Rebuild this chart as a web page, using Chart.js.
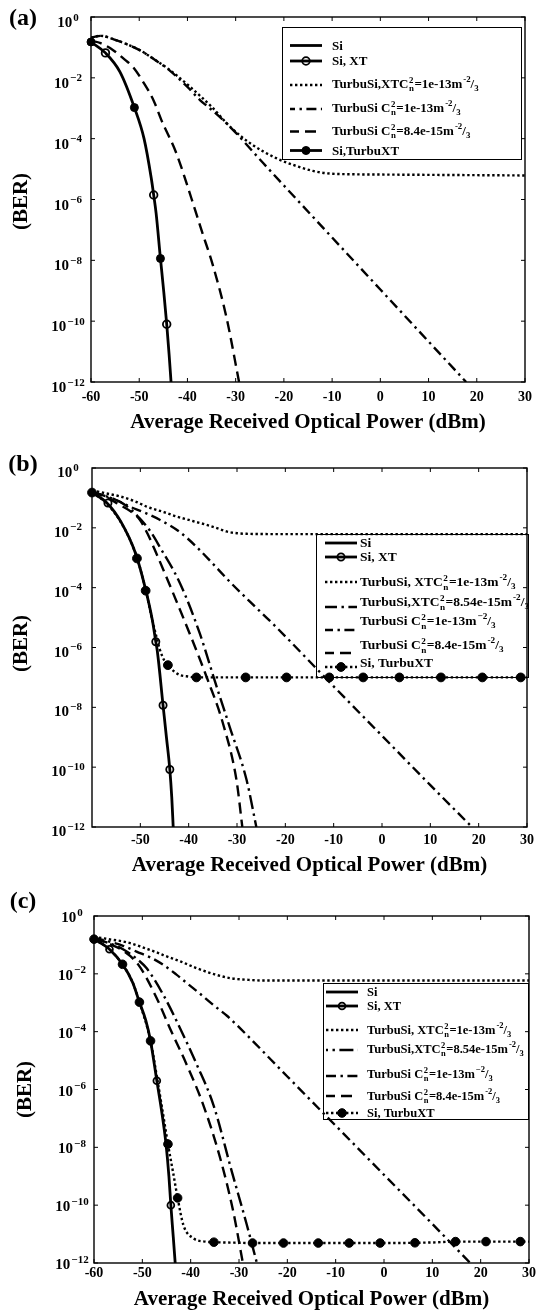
<!DOCTYPE html>
<html>
<head>
<meta charset="utf-8">
<title>BER vs average received optical power</title>
<script src="https://cdn.jsdelivr.net/npm/chart.js@4.4.1/dist/chart.umd.min.js"></script>
<style>
  html, body { margin: 0; padding: 0; background: #fff; }
  #page { position: relative; width: 539px; height: 1312px; overflow: hidden; background: #fff; }
  #page canvas { position: absolute; left: 0; }
</style>
</head>
<body>
<div id="page">
  <canvas id="panelA" width="539" height="440" style="top:0px"></canvas>
  <canvas id="panelB" width="539" height="440" style="top:440px"></canvas>
  <canvas id="panelC" width="539" height="432" style="top:880px"></canvas>
</div>
<script>
// ---------- shared axis values ----------
const yTickExponents = [0, -2, -4, -6, -8, -10, -12];
const xTickValuesA = [-60, -50, -40, -30, -20, -10, 0, 10, 20, 30];
const xTickValuesB = [-50, -40, -30, -20, -10, 0, 10, 20, 30];
const xTickValuesC = [-60, -50, -40, -30, -20, -10, 0, 10, 20, 30];
const xTitle = 'Average Received Optical Power (dBm)';
const yTitle = '(BER)';

// ---------- panel (a) ----------
const siPowerA = [-60, -57, -54, -51, -49, -47.5, -47, -46.5, -45.6, -44.9, -44.3, -43.8, -43.4];
const siBerA = [1.51e-1, 6.61e-2, 1.58e-2, 1.05e-3, 1.0e-4, 5.01e-6, 1.41e-6, 3.55e-7, 1.15e-8, 8.91e-10, 7.94e-11, 7.94e-12, 1.0e-12];
const siXtPowerA = [-57, -47, -44.3];
const siXtBerA = [6.61e-2, 1.41e-6, 7.94e-11];
const siTurbXtPowerA = [-60, -51, -45.6];
const siTurbXtBerA = [1.51e-1, 1.05e-3, 1.15e-8];
const turbXtPowerA = [-60, -58, -55, -52, -49.9, -47, -43.6, -39.5, -35, -31.2, -27, -21.6, -17, -14, -11, -6, 0, 10, 20, 30];
const turbXtBerA = [2.09e-1, 2.40e-1, 1.78e-1, 1.17e-1, 8.13e-2, 4.17e-2, 1.78e-2, 5.13e-3, 1.12e-3, 2.51e-4, 7.08e-5, 2.29e-5, 1.20e-5, 8.71e-6, 7.24e-6, 6.76e-6, 6.61e-6, 6.46e-6, 6.31e-6, 6.17e-6];
const turbPowerA = [-60, -58, -55, -52, -49.9, -47, -43.6, -40, -37.4, -35, -32.6, -30, -24.3, -20, -10, 0, 10, 17.8];
const turbBerA = [2.09e-1, 2.40e-1, 1.78e-1, 1.17e-1, 8.13e-2, 4.17e-2, 1.70e-2, 5.01e-3, 1.86e-3, 8.91e-4, 4.07e-4, 1.58e-4, 1.58e-5, 2.88e-6, 5.62e-8, 1.10e-9, 2.14e-11, 1.0e-12];
const turbWeakPowerA = [-60, -58, -55.4, -53, -51.3, -49.2, -47, -45.4, -42.3, -39.2, -37, -34.75, -31.9, -29.3];
const turbWeakBerA = [1.66e-1, 1.38e-1, 8.13e-2, 3.98e-2, 2.29e-2, 7.41e-3, 1.78e-3, 4.07e-4, 3.31e-5, 1.12e-6, 8.91e-8, 7.08e-9, 1.32e-10, 1.0e-12];
const legendTextA = [
  'Si',
  'Si, XT',
  'TurbuSi,XTC{2|n}=1e-13m^{-2}/_{3}',
  'TurbuSi C{2|n}=1e-13m^{-2}/_{3}',
  'TurbuSi C{2|n}=8.4e-15m^{-2}/_{3}',
  'Si,TurbuXT'
];

// ---------- panel (b) ----------
const siPowerB = [-60, -57, -54, -51, -49, -47.5, -46.8, -46.5, -45.3, -44.6, -43.9, -43.5, -43.2];
const siBerB = [1.51e-1, 7.08e-2, 1.58e-2, 1.41e-3, 1.0e-4, 7.94e-6, 1.55e-6, 7.94e-7, 1.17e-8, 1.0e-9, 8.32e-11, 1.0e-11, 1.0e-12];
const siXtPowerB = [-56.7, -46.8, -45.3, -43.9];
const siXtBerB = [6.76e-2, 1.55e-6, 1.17e-8, 8.32e-11];
const siTurbXtPowerB = [-60, -57, -54, -51, -49, -47.5, -46.5, -46, -45, -44.3, -43, -41.8, -40, -38.4, -35, -30, -20, -10, 0, 10, 20, 30];
const siTurbXtBerB = [1.51e-1, 6.61e-2, 1.51e-2, 1.41e-3, 1.0e-4, 7.94e-6, 1.78e-6, 8.91e-7, 3.55e-7, 2.57e-7, 1.58e-7, 1.20e-7, 1.07e-7, 1.0e-7, 1.0e-7, 1.0e-7, 1.0e-7, 1.0e-7, 1.0e-7, 1.0e-7, 1.0e-7, 1.0e-7];
const siTurbXtMarkPowerB = [-60, -50.7, -48.9, -44.3, -38.4, -28.2, -19.75, -10.9, -3.9, 3.6, 12.2, 20.75, 28.7];
const siTurbXtMarkBerB = [1.51e-1, 9.5e-4, 7.94e-5, 2.57e-7, 1.0e-7, 1.0e-7, 1.0e-7, 1.0e-7, 1.0e-7, 1.0e-7, 1.0e-7, 1.0e-7, 1.0e-7];
const turbXtPowerB = [-60, -57, -54, -51, -48.7, -45, -42.5, -39, -36.3, -34, -32.2, -30, -28, -20, -10, 0, 10, 20, 30];
const turbXtBerB = [1.78e-1, 1.41e-1, 1.10e-1, 7.59e-2, 5.13e-2, 3.31e-2, 2.40e-2, 1.66e-2, 1.26e-2, 9.55e-3, 7.59e-3, 6.61e-3, 6.31e-3, 6.17e-3, 6.17e-3, 6.17e-3, 6.17e-3, 6.17e-3, 6.17e-3];
const turbXtWeakPowerB = [-60, -57, -54, -52, -50.5, -48, -46, -41.8, -37.7, -34.2, -31.5, -28, -26];
const turbXtWeakBerB = [1.58e-1, 1.12e-1, 7.08e-2, 4.17e-2, 2.40e-2, 7.94e-3, 2.34e-3, 1.41e-4, 2.95e-6, 4.79e-8, 2.19e-9, 3.63e-11, 1.0e-12];
const turbPowerB = [-60, -57, -55, -52.2, -49, -46, -42, -38.4, -35, -31.5, -27, -22.5, -10, 0, 10, 18.6];
const turbBerB = [1.58e-1, 1.12e-1, 8.51e-2, 5.13e-2, 3.16e-2, 1.86e-2, 7.59e-3, 2.34e-3, 6.31e-4, 1.58e-4, 3.02e-5, 6.03e-6, 5.01e-8, 1.12e-9, 2.51e-11, 1.0e-12];
const turbWeakPowerB = [-60, -57, -54.3, -52, -50.1, -48.5, -46.7, -43.2, -39.8, -36.3, -32.9, -30.1, -28.9];
const turbWeakBerB = [1.58e-1, 1.05e-1, 5.89e-2, 3.55e-2, 1.86e-2, 6.31e-3, 1.41e-3, 6.46e-5, 2.95e-6, 1.05e-7, 2.88e-9, 3.63e-11, 1.0e-12];
const legendTextB = [
  'Si',
  'Si, XT',
  'TurbuSi, XTC{2|n}=1e-13m^{-2}/_{3}',
  'TurbuSi,XTC{2|n}=8.54e-15m^{-2}/_{3}',
  'TurbuSi C{2|n}=1e-13m^{\u22122}/_{3}',
  'TurbuSi C{2|n}=8.4e-15m^{-2}/_{3}',
  'Si, TurbuXT'
];

// ---------- panel (c) ----------
const siPowerC = [-60, -58, -56.8, -54.1, -52, -50.6, -49.3, -48.3, -47.0, -46.0, -45.1, -44.5, -44.1, -43.6, -43.2];
const siBerC = [1.58e-1, 1.0e-1, 7.08e-2, 2.14e-2, 5.01e-3, 1.05e-3, 2.51e-4, 4.79e-5, 2.0e-6, 1.78e-7, 1.29e-8, 1.0e-9, 1.0e-10, 7.94e-12, 1.0e-12];
const siXtPowerC = [-56.8, -47.0, -44.1];
const siXtBerC = [7.08e-2, 2.0e-6, 1.0e-10];
const siTurbXtPowerC = [-60, -57, -54.1, -52, -50.6, -48.3, -47, -46, -44.7, -43.6, -42.7, -41.5, -39.4, -37, -35.2, -30, -27.2, -20, -10, 0, 10, 14.8, 20, 30];
const siTurbXtBerC = [1.58e-1, 7.59e-2, 2.14e-2, 5.01e-3, 1.05e-3, 4.79e-5, 2.82e-6, 2.82e-7, 1.29e-8, 1.26e-9, 1.78e-10, 2.04e-11, 7.08e-12, 5.5e-12, 5.25e-12, 5.01e-12, 4.9e-12, 4.9e-12, 4.9e-12, 4.9e-12, 5.13e-12, 5.5e-12, 5.5e-12, 5.5e-12];
const siTurbXtMarkPowerC = [-60, -54.1, -50.6, -48.3, -44.7, -42.7, -35.2, -27.2, -20.8, -13.6, -7.2, -0.8, 6.4, 14.8, 21.1, 28.2];
const siTurbXtMarkBerC = [1.58e-1, 2.14e-2, 1.05e-3, 4.79e-5, 1.29e-8, 1.78e-10, 5.25e-12, 4.9e-12, 4.9e-12, 4.9e-12, 4.9e-12, 4.9e-12, 5.0e-12, 5.5e-12, 5.5e-12, 5.5e-12];
const turbXtPowerC = [-60, -57, -54, -52.5, -50, -47, -45.7, -42, -38.7, -35, -31.8, -28, -25, -20, -10, 0, 10, 20, 30];
const turbXtBerC = [1.91e-1, 1.58e-1, 1.32e-1, 1.15e-1, 8.32e-2, 5.5e-2, 4.47e-2, 2.63e-2, 1.55e-2, 9.55e-3, 7.08e-3, 6.17e-3, 5.89e-3, 5.89e-3, 5.89e-3, 5.89e-3, 5.89e-3, 5.89e-3, 5.89e-3];
const turbXtWeakPowerC = [-60, -57, -54, -51, -49.1, -45.65, -42.2, -38.7, -35.3, -31.5, -28.4, -26.3];
const turbXtWeakBerC = [1.66e-1, 1.17e-1, 7.08e-2, 3.16e-2, 1.55e-2, 1.86e-3, 1.32e-4, 7.08e-6, 2.95e-7, 1.48e-9, 2.14e-11, 1.0e-12];
const turbPowerC = [-60, -57, -54, -51.2, -48, -45.65, -43, -40.8, -38, -35.3, -32.5, -29.8, -20, -10, 0, 10, 17.85];
const turbBerC = [1.78e-1, 1.32e-1, 9.33e-2, 5.89e-2, 3.47e-2, 2.04e-2, 9.55e-3, 4.79e-3, 2.0e-3, 8.32e-4, 3.55e-4, 1.32e-4, 2.82e-6, 5.62e-8, 1.12e-9, 2.24e-11, 1.0e-12];
const turbWeakPowerC = [-60, -57, -54, -50.8, -47, -44.3, -40.8, -37.4, -33.9, -31.2, -29.2];
const turbWeakBerC = [1.66e-1, 1.12e-1, 6.31e-2, 2.04e-2, 1.41e-3, 1.32e-4, 7.08e-6, 2.95e-7, 4.27e-9, 6.17e-11, 1.0e-12];
const legendTextC = [
  'Si',
  'Si, XT',
  'TurbuSi, XTC{2|n}=1e-13m^{-2}/_{3}',
  'TurbuSi,XTC{2|n}=8.54e-15m^{-2}/_{3}',
  'TurbuSi C{2|n}=1e-13m^{\u22122}/_{3}',
  'TurbuSi C{2|n}=8.4e-15m^{-2}/_{3}',
  'Si, TurbuXT'
];

// ---------- styling ----------
const SERIF = "'Liberation Serif', 'Times New Roman', serif";
Chart.defaults.font.family = SERIF;
Chart.defaults.color = '#000';

const SOLID = [];
const DOTTED = [2.4, 2.6];
const DASHED = [11, 6];
const DASH_DOT = [10, 4.5, 2.4, 4.5];
const LONG_DASH_DOT = [14, 4.5, 2.4, 4.5];

const pts = (xs, ys) => xs.map((x, i) => ({ x: x, y: ys[i] }));

function curve(name, xs, ys, dash, width) {
  return {
    label: name, data: pts(xs, ys), borderColor: '#000', backgroundColor: '#000',
    borderWidth: width, borderDash: dash, pointRadius: 0, pointHoverRadius: 0,
    cubicInterpolationMode: 'monotone', fill: false, order: 1
  };
}
function markers(name, xs, ys, filled, r) {
  return {
    label: name, data: pts(xs, ys), showLine: false, pointStyle: 'circle',
    pointRadius: r, pointHoverRadius: r, borderColor: '#000',
    pointBackgroundColor: filled ? '#000' : 'rgba(0,0,0,0)',
    pointBorderColor: '#000', pointBorderWidth: filled ? 1 : 1.8,
    clip: false, order: 0
  };
}

// ---------- rich text with sub/superscripts ----------
function richRuns(str) {
  const runs = [];
  let i = 0, buf = '';
  const flush = () => { if (buf) { runs.push({ kind: 'n', a: buf }); buf = ''; } };
  while (i < str.length) {
    const c = str[i];
    if ((c === '^' || c === '_') && str[i + 1] === '{') {
      flush();
      const j = str.indexOf('}', i);
      runs.push({ kind: c === '^' ? 'sup' : 'sub', a: str.slice(i + 2, j) });
      i = j + 1;
    } else if (c === '{') {
      flush();
      const j = str.indexOf('}', i);
      const parts = str.slice(i + 1, j).split('|');
      runs.push({ kind: 'stack', a: parts[0], b: parts[1] });
      i = j + 1;
    } else { buf += c; i++; }
  }
  flush();
  return runs;
}
function drawRich(ctx, str, x, midY, size) {
  const small = size * 0.68;
  const base = midY + size * 0.33;
  const big = 'bold ' + size + 'px ' + SERIF;
  const sm = 'bold ' + small + 'px ' + SERIF;
  ctx.textAlign = 'left';
  ctx.textBaseline = 'alphabetic';
  ctx.fillStyle = '#000';
  for (const r of richRuns(str)) {
    if (r.kind === 'n') {
      ctx.font = big; ctx.fillText(r.a, x, base); x += ctx.measureText(r.a).width;
    } else if (r.kind === 'sup') {
      ctx.font = sm; ctx.fillText(r.a, x + 1, base - size * 0.5); x += ctx.measureText(r.a).width + 1;
    } else if (r.kind === 'sub') {
      ctx.font = sm; ctx.fillText(r.a, x, base + size * 0.22); x += ctx.measureText(r.a).width;
    } else {
      ctx.font = sm;
      ctx.fillText(r.a, x + 0.5, base - size * 0.42);
      ctx.fillText(r.b, x + 0.5, base + size * 0.24);
      x += Math.max(ctx.measureText(r.a).width, ctx.measureText(r.b).width) + 1;
    }
  }
}

// ---------- frame, labels and legend ----------
function decor(spec) {
  const byLabel = (chart, name) => chart.data.datasets.find(d => d.label === name);
  return {
    id: 'decor' + spec.letter,
    beforeDatasetsDraw(chart) {
      const ctx = chart.ctx;
      const lg = spec.legend;
      ctx.save();
      ctx.fillStyle = '#fff';
      ctx.fillRect(lg.box[0], lg.box[1], lg.box[2], lg.box[3]);
      ctx.strokeStyle = '#000';
      ctx.lineWidth = 1;
      ctx.setLineDash([]);
      ctx.strokeRect(lg.box[0] + 0.5, lg.box[1] + 0.5, lg.box[2], lg.box[3]);
      lg.entries.forEach((e, i) => {
        const sy = lg.sampleY[i];
        if (e.line) {
          const ds = byLabel(chart, e.line);
          ctx.strokeStyle = '#000';
          ctx.lineWidth = ds.borderWidth;
          ctx.setLineDash(ds.borderDash);
          ctx.lineDashOffset = e.offset || 0;
          ctx.beginPath();
          ctx.moveTo(lg.sampleX[0], sy);
          ctx.lineTo(lg.sampleX[1], sy);
          ctx.stroke();
          ctx.lineDashOffset = 0;
        }
        if (e.marker) {
          const m = byLabel(chart, e.marker);
          ctx.setLineDash([]);
          ctx.beginPath();
          ctx.arc((lg.sampleX[0] + lg.sampleX[1]) / 2, sy, m.pointRadius, 0, Math.PI * 2);
          ctx.fillStyle = m.pointBackgroundColor;
          ctx.fill();
          ctx.lineWidth = m.pointBorderWidth;
          ctx.strokeStyle = '#000';
          ctx.stroke();
        }
        drawRich(ctx, lg.text[i], lg.textX, lg.textY[i], lg.size);
      });
      ctx.restore();
    },
    afterDraw(chart) {
      const ctx = chart.ctx;
      const { left, right, top, bottom } = chart.chartArea;
      const xs = chart.scales.x, ys = chart.scales.y;
      ctx.save();
      ctx.setLineDash([]);
      ctx.strokeStyle = '#000';
      ctx.lineWidth = 1.4;
      ctx.strokeRect(left, top, right - left, bottom - top);
      ctx.lineWidth = 1;
      const L = 4;
      ctx.beginPath();
      for (const v of spec.xTicks) {
        const px = xs.getPixelForValue(v);
        ctx.moveTo(px, bottom); ctx.lineTo(px, bottom - L);
        ctx.moveTo(px, top); ctx.lineTo(px, top + L);
      }
      for (const e of yTickExponents) {
        const py = ys.getPixelForValue(Math.pow(10, e));
        ctx.moveTo(left, py); ctx.lineTo(left + L, py);
        ctx.moveTo(right, py); ctx.lineTo(right - L, py);
      }
      ctx.stroke();

      // decade labels 10^n
      ctx.fillStyle = '#000';
      ctx.textBaseline = 'alphabetic';
      ctx.textAlign = 'left';
      const bigF = 'bold 15px ' + SERIF, smF = 'bold 11px ' + SERIF;
      for (const e of yTickExponents) {
        const py = ys.getPixelForValue(Math.pow(10, e)) + spec.yLabelDy;
        const exp = e === 0 ? '0' : '\u2212' + (-e);
        ctx.font = bigF; const w1 = ctx.measureText('10').width;
        ctx.font = smF; const w2 = ctx.measureText(exp).width;
        const x0 = spec.yLabelX - (w1 + w2 + 1) / 2;
        ctx.font = bigF; ctx.fillText('10', x0, py + 5);
        ctx.font = smF; ctx.fillText(exp, x0 + w1 + 1, py - 1.5);
      }

      // vertical axis title
      ctx.save();
      ctx.translate(spec.berX, (top + bottom) / 2 + spec.berDy);
      ctx.rotate(-Math.PI / 2);
      ctx.font = 'bold 21px ' + SERIF;
      ctx.textAlign = 'center';
      ctx.textBaseline = 'middle';
      ctx.fillText(yTitle, 0, 0);
      ctx.restore();

      // panel letter
      ctx.font = 'bold 24px ' + SERIF;
      ctx.textAlign = 'center';
      ctx.textBaseline = 'middle';
      ctx.fillText(spec.letter, spec.letterX, spec.letterY);
      ctx.restore();
    }
  };
}

function buildPanel(canvasId, spec) {
  new Chart(document.getElementById(canvasId), {
    type: 'line',
    data: { datasets: spec.datasets },
    options: {
      responsive: false,
      animation: false,
      events: [],
      layout: { padding: spec.pad },
      plugins: { legend: { display: false }, tooltip: { enabled: false } },
      scales: {
        x: {
          type: 'linear', min: -60, max: 30,
          afterBuildTicks: s => { s.ticks = spec.xTicks.map(v => ({ value: v })); },
          afterFit: s => { s.height = spec.xAxisHeight; },
          grid: { display: false, drawTicks: false },
          border: { display: false },
          ticks: {
            autoSkip: false, maxRotation: 0, padding: spec.tickPad, color: '#000',
            font: { family: SERIF, weight: 'bold', size: 14 },
            callback: v => String(v)
          },
          title: {
            display: true, text: xTitle, color: '#000',
            font: { family: SERIF, weight: 'bold', size: 21 },
            padding: { top: 0, bottom: spec.titlePad }
          }
        },
        y: { type: 'logarithmic', min: 1e-12, max: 1, display: false }
      }
    },
    plugins: [decor(spec)]
  });
}

// ---------- panel (a) ----------
buildPanel('panelA', {
  letter: '(a)', letterX: 23, letterY: 19,
  pad: { left: 91, right: 13, top: 17, bottom: 0 },
  xAxisHeight: 58, tickPad: 7, titlePad: 5,
  xTicks: xTickValuesA,
  yLabelX: 68, yLabelDy: 5, berX: 22, berDy: 2,
  datasets: [
    markers('Si, XT', siXtPowerA, siXtBerA, false, 3.8),
    markers('Si,TurbuXT', siTurbXtPowerA, siTurbXtBerA, true, 4),
    curve('Si', siPowerA, siBerA, SOLID, 2.8),
    curve('TurbuSi,XT 1e-13', turbXtPowerA, turbXtBerA, DOTTED, 2.4),
    curve('TurbuSi 1e-13', turbPowerA, turbBerA, DASH_DOT, 2.4),
    curve('TurbuSi 8.4e-15', turbWeakPowerA, turbWeakBerA, DASHED, 2.4)
  ],
  legend: {
    box: [282, 27, 239, 132], size: 13, textX: 332,
    sampleX: [290, 322],
    textY: [45.5, 61, 84, 108, 131, 150.5],
    sampleY: [45.5, 61, 85, 109, 131.5, 150.5],
    text: legendTextA,
    entries: [
      { line: 'Si' },
      { line: 'Si', marker: 'Si, XT' },
      { line: 'TurbuSi,XT 1e-13' },
      { line: 'TurbuSi 1e-13', offset: 5 },
      { line: 'TurbuSi 8.4e-15', offset: 2 },
      { line: 'Si', marker: 'Si,TurbuXT' }
    ]
  }
});

// ---------- panel (b) ----------
buildPanel('panelB', {
  letter: '(b)', letterX: 23, letterY: 25,
  pad: { left: 92, right: 12, top: 28, bottom: 0 },
  xAxisHeight: 53, tickPad: 5, titlePad: 2,
  xTicks: xTickValuesB,
  yLabelX: 68, yLabelDy: 4, berX: 22, berDy: -4,
  datasets: [
    markers('Si, XT', siXtPowerB, siXtBerB, false, 3.6),
    markers('Si, TurbuXT marks', siTurbXtMarkPowerB, siTurbXtMarkBerB, true, 4.4),
    curve('Si', siPowerB, siBerB, SOLID, 2.8),
    curve('Si, TurbuXT', siTurbXtPowerB, siTurbXtBerB, DOTTED, 2.4),
    curve('TurbuSi,XT 1e-13', turbXtPowerB, turbXtBerB, DOTTED, 2.4),
    curve('TurbuSi,XT 8.54e-15', turbXtWeakPowerB, turbXtWeakBerB, LONG_DASH_DOT, 2.4),
    curve('TurbuSi 1e-13', turbPowerB, turbBerB, DASH_DOT, 2.4),
    curve('TurbuSi 8.4e-15', turbWeakPowerB, turbWeakBerB, DASHED, 2.4)
  ],
  legend: {
    box: [316, 94, 212, 143], size: 13.5, textX: 360,
    sampleX: [325, 357],
    textY: [103, 117, 142, 162, 181, 205, 223],
    sampleY: [103, 117, 142, 167, 190, 213, 227],
    text: legendTextB,
    entries: [
      { line: 'Si' },
      { line: 'Si', marker: 'Si, XT' },
      { line: 'TurbuSi,XT 1e-13' },
      { line: 'TurbuSi,XT 8.54e-15', offset: 2 },
      { line: 'TurbuSi 1e-13', offset: 2 },
      { line: 'TurbuSi 8.4e-15', offset: 2 },
      { line: 'Si, TurbuXT', marker: 'Si, TurbuXT marks' }
    ]
  }
});

// ---------- panel (c) ----------
buildPanel('panelC', {
  letter: '(c)', letterX: 23, letterY: 22,
  pad: { left: 94, right: 10, top: 36, bottom: 0 },
  xAxisHeight: 49, tickPad: 2, titlePad: 0,
  xTicks: xTickValuesC,
  yLabelX: 72, yLabelDy: 1, berX: 26, berDy: 0,
  datasets: [
    markers('Si, XT', siXtPowerC, siXtBerC, false, 3.4),
    markers('Si, TurbuXT marks', siTurbXtMarkPowerC, siTurbXtMarkBerC, true, 4.3),
    curve('Si', siPowerC, siBerC, SOLID, 2.8),
    curve('Si, TurbuXT', siTurbXtPowerC, siTurbXtBerC, DOTTED, 2.4),
    curve('TurbuSi,XT 1e-13', turbXtPowerC, turbXtBerC, DOTTED, 2.4),
    curve('TurbuSi,XT 8.54e-15', turbXtWeakPowerC, turbXtWeakBerC, LONG_DASH_DOT, 2.4),
    curve('TurbuSi 1e-13', turbPowerC, turbBerC, DASH_DOT, 2.4),
    curve('TurbuSi 8.4e-15', turbWeakPowerC, turbWeakBerC, DASHED, 2.4)
  ],
  legend: {
    box: [323, 103, 205, 136], size: 12.5, textX: 367,
    sampleX: [326, 358],
    textY: [112, 126, 150, 169, 194, 216, 233],
    sampleY: [112, 126, 150, 170, 196, 216, 233],
    text: legendTextC,
    entries: [
      { line: 'Si' },
      { line: 'Si', marker: 'Si, XT' },
      { line: 'TurbuSi,XT 1e-13' },
      { line: 'TurbuSi,XT 8.54e-15', offset: 12 },
      { line: 'TurbuSi 1e-13', offset: 0 },
      { line: 'TurbuSi 8.4e-15', offset: 2 },
      { line: 'Si, TurbuXT', marker: 'Si, TurbuXT marks' }
    ]
  }
});
</script>
</body>
</html>
